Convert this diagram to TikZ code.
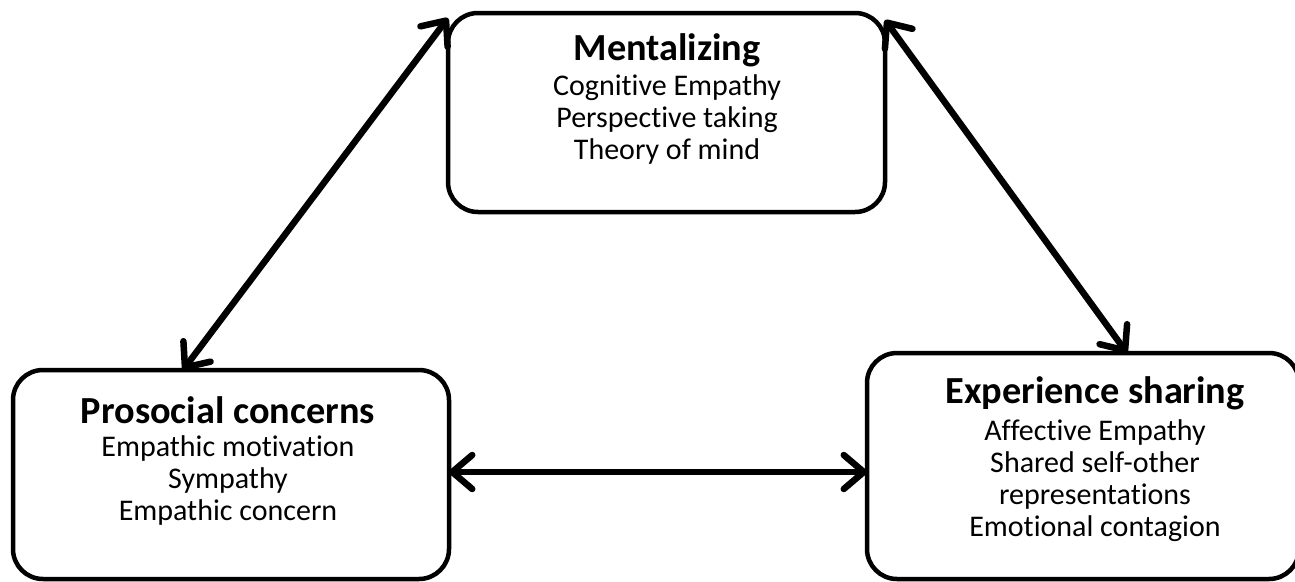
\documentclass[tikz,border=0pt]{standalone}
\usepackage{fontspec}
\setmainfont{Carlito}[Ligatures=NoCommon]
\usetikzlibrary{arrows.meta}
\begin{document}
\begin{tikzpicture}[x=1pt,y=-1pt,
  box/.style={draw, line width=4.5pt, rounded corners=30pt, outer sep=0pt, inner sep=0pt},
  txt/.style={inner sep=0pt, align=center, font=\fontsize{30}{32.3}\selectfont},
  ttl/.style={inner sep=0pt, font=\bfseries\fontsize{38.3}{40}\selectfont},
  link/.style={line width=6.5pt, line cap=round, {Straight Barb[length=20pt,width=34pt,round]}-{Straight Barb[length=20pt,width=34pt,round]}}]
\clip (0,0) rectangle (1295,581);
\useasboundingbox (0,0) rectangle (1295,581);
% boxes
\node[box, minimum width=437pt, minimum height=199pt] (ment) at (666.5,112.5) {};
\node[box, minimum width=436pt, minimum height=209pt] (pro) at (231,474.5) {};
\node[box, minimum width=432pt, minimum height=226pt] (exp) at (1083,466) {};
% texts
\node[ttl] (mentT) at (667,50) {Mentalizing};
\node[txt, anchor=north] (mentB) at (667,74) {Cognitive Empathy\\Perspective taking\\Theory of mind};
\node[ttl] (proT) at (228,410) {Prosocial concerns};
\node[txt, anchor=north] (proB) at (228,435) {Empathic motivation\\Sympathy\\Empathic concern};
\node[ttl] (expT) at (1095,393) {Experience sharing};
\node[txt, anchor=north] (expB) at (1095,419) {Affective Empathy\\Shared self-other\\representations\\Emotional contagion};
% connectors
\coordinate (hy) at (0,472);
\draw[link] ([yshift=-5pt]ment.north west) -- ([xshift=170pt]pro.north west);
\draw[link] ([yshift=-7pt]ment.north east) -- ([xshift=260pt]exp.north west);
\draw[link] (pro.east |- hy) -- (exp.west |- hy);
\end{tikzpicture}
\end{document}
